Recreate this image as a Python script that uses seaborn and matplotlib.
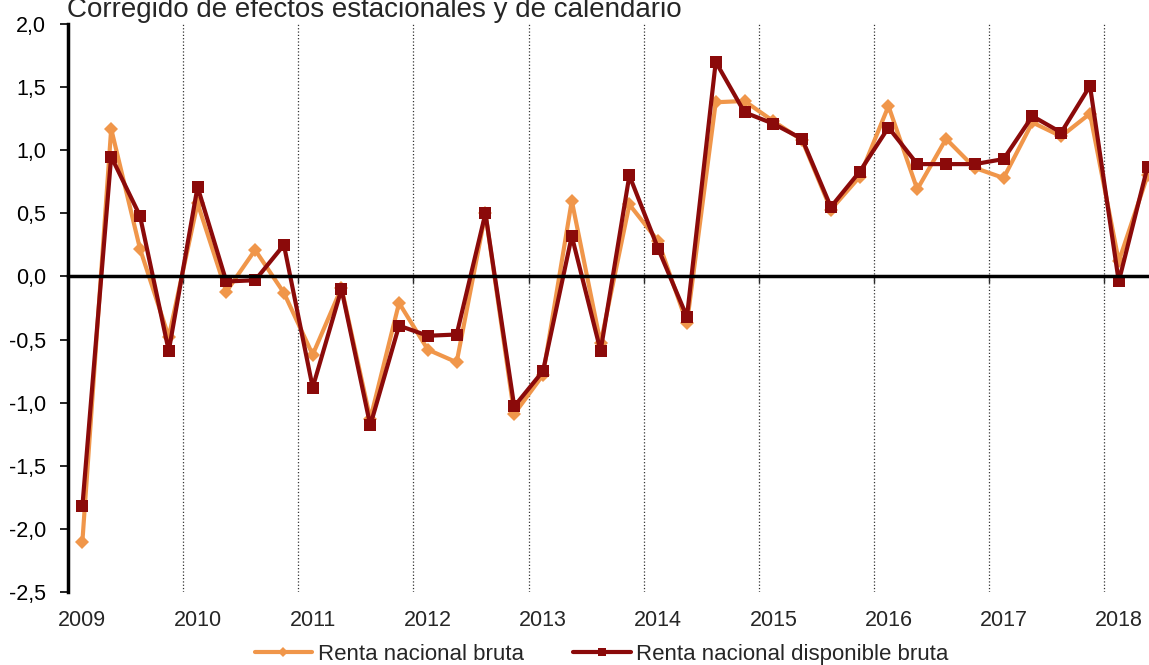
import numpy as np
import pandas as pd
import matplotlib
matplotlib.use("Agg")
import matplotlib.pyplot as plt
from matplotlib.lines import Line2D
from matplotlib.ticker import FuncFormatter
import seaborn as sns

# Datos trimestrales 2009T1 - 2018T2 (tasa intertrimestral, %)
years = ["2009", "2010", "2011", "2012", "2013", "2014", "2015", "2016", "2017", "2018"]
quarters = [f"{y}T{q}" for y in years for q in range(1, 5)][:38]

renta_nacional = [
    -2.10, 1.17, 0.22, -0.48,
    0.58, -0.12, 0.21, -0.13,
    -0.62, -0.09, -1.13, -0.21,
    -0.58, -0.68, 0.50, -1.09,
    -0.78, 0.60, -0.53, 0.57,
    0.28, -0.37, 1.38, 1.39,
    1.23, 1.08, 0.53, 0.79,
    1.35, 0.69, 1.09, 0.86,
    0.78, 1.22, 1.11, 1.29,
    0.12, 0.80,
]
renta_disponible = [
    -1.82, 0.95, 0.48, -0.59,
    0.71, -0.04, -0.03, 0.25,
    -0.88, -0.10, -1.18, -0.39,
    -0.47, -0.46, 0.50, -1.03,
    -0.75, 0.32, -0.59, 0.80,
    0.22, -0.32, 1.70, 1.30,
    1.21, 1.09, 0.55, 0.83,
    1.18, 0.89, 0.89, 0.89,
    0.93, 1.27, 1.14, 1.51,
    -0.04, 0.87,
]

naranja = "#F0964A"
rojo = "#8B0A0A"

df = pd.DataFrame({
    "x": np.arange(len(quarters)),
    "trimestre": quarters,
    "rnb": renta_nacional,
    "rndb": renta_disponible,
})

sns.set_style("white")
plt.rcParams["font.family"] = ["Liberation Sans", "DejaVu Sans"]

fig = plt.figure(figsize=(11.49, 6.65), dpi=100)
ax = fig.add_axes([68 / 1149, 73 / 665, 1 - 68 / 1149, (592 - 24) / 665])

sns.lineplot(data=df, x="x", y="rnb", ax=ax, color=naranja, lw=3,
             marker="D", markersize=7.5, markeredgewidth=0, zorder=3)
sns.lineplot(data=df, x="x", y="rndb", ax=ax, color=rojo, lw=3,
             marker="s", markersize=8, markeredgewidth=0, zorder=4)
if ax.get_legend() is not None:
    ax.get_legend().remove()

# lineas verticales punteadas entre años
limites = [4 * i - 0.5 for i in range(1, len(years))]
for b in limites:
    ax.axvline(b, ls=":", color="#333333", lw=0.9, zorder=1)

ax.set_xlim(-0.5, 37.05)
ax.set_ylim(-2.5, 2.0)
ax.set_yticks(np.arange(-2.5, 2.01, 0.5))
ax.yaxis.set_major_formatter(FuncFormatter(lambda v, p: f"{v:.1f}".replace(".", ",")))
ax.tick_params(axis="y", direction="out", length=6, width=1.2, pad=10,
               labelsize=15.5, left=True, colors="black")

sns.despine(ax=ax, top=True, right=True)
ax.spines["left"].set_linewidth(2.5)
ax.spines["left"].set_color("black")
ax.spines["bottom"].set_position(("data", 0))
ax.spines["bottom"].set_linewidth(2.5)
ax.spines["bottom"].set_color("black")
ax.spines["bottom"].set_zorder(5)
ax.set_xticks(limites)
ax.tick_params(axis="x", direction="out", length=5, width=1, bottom=True,
               labelbottom=False)
ax.set_xlabel("")
ax.set_ylabel("")

sec = ax.secondary_xaxis("bottom")
sec.set_xticks([4 * i for i in range(len(years))], labels=years)
sec.tick_params(length=0, pad=13, labelsize=15.5)
sec.spines["bottom"].set_visible(False)

# el titulo queda recortado arriba, como en el original
fig.text(67 / 1149, 1 - 17 / 665, "Corregido de efectos estacionales y de calendario",
         fontsize=20, va="baseline", ha="left")

handles = [
    Line2D([], [], color=naranja, lw=3, marker="D", markersize=5, markeredgewidth=0),
    Line2D([], [], color=rojo, lw=3, marker="s", markersize=6, markeredgewidth=0),
]
fig.legend(handles, ["Renta nacional bruta", "Renta nacional disponible bruta"],
           loc="center", bbox_to_anchor=(0.5235, 0.016), ncol=2, frameon=False,
           fontsize=16, handlelength=2.6, handletextpad=0.25, columnspacing=2.2,
           borderpad=0, borderaxespad=0)

fig.savefig("out.png", dpi=100)
